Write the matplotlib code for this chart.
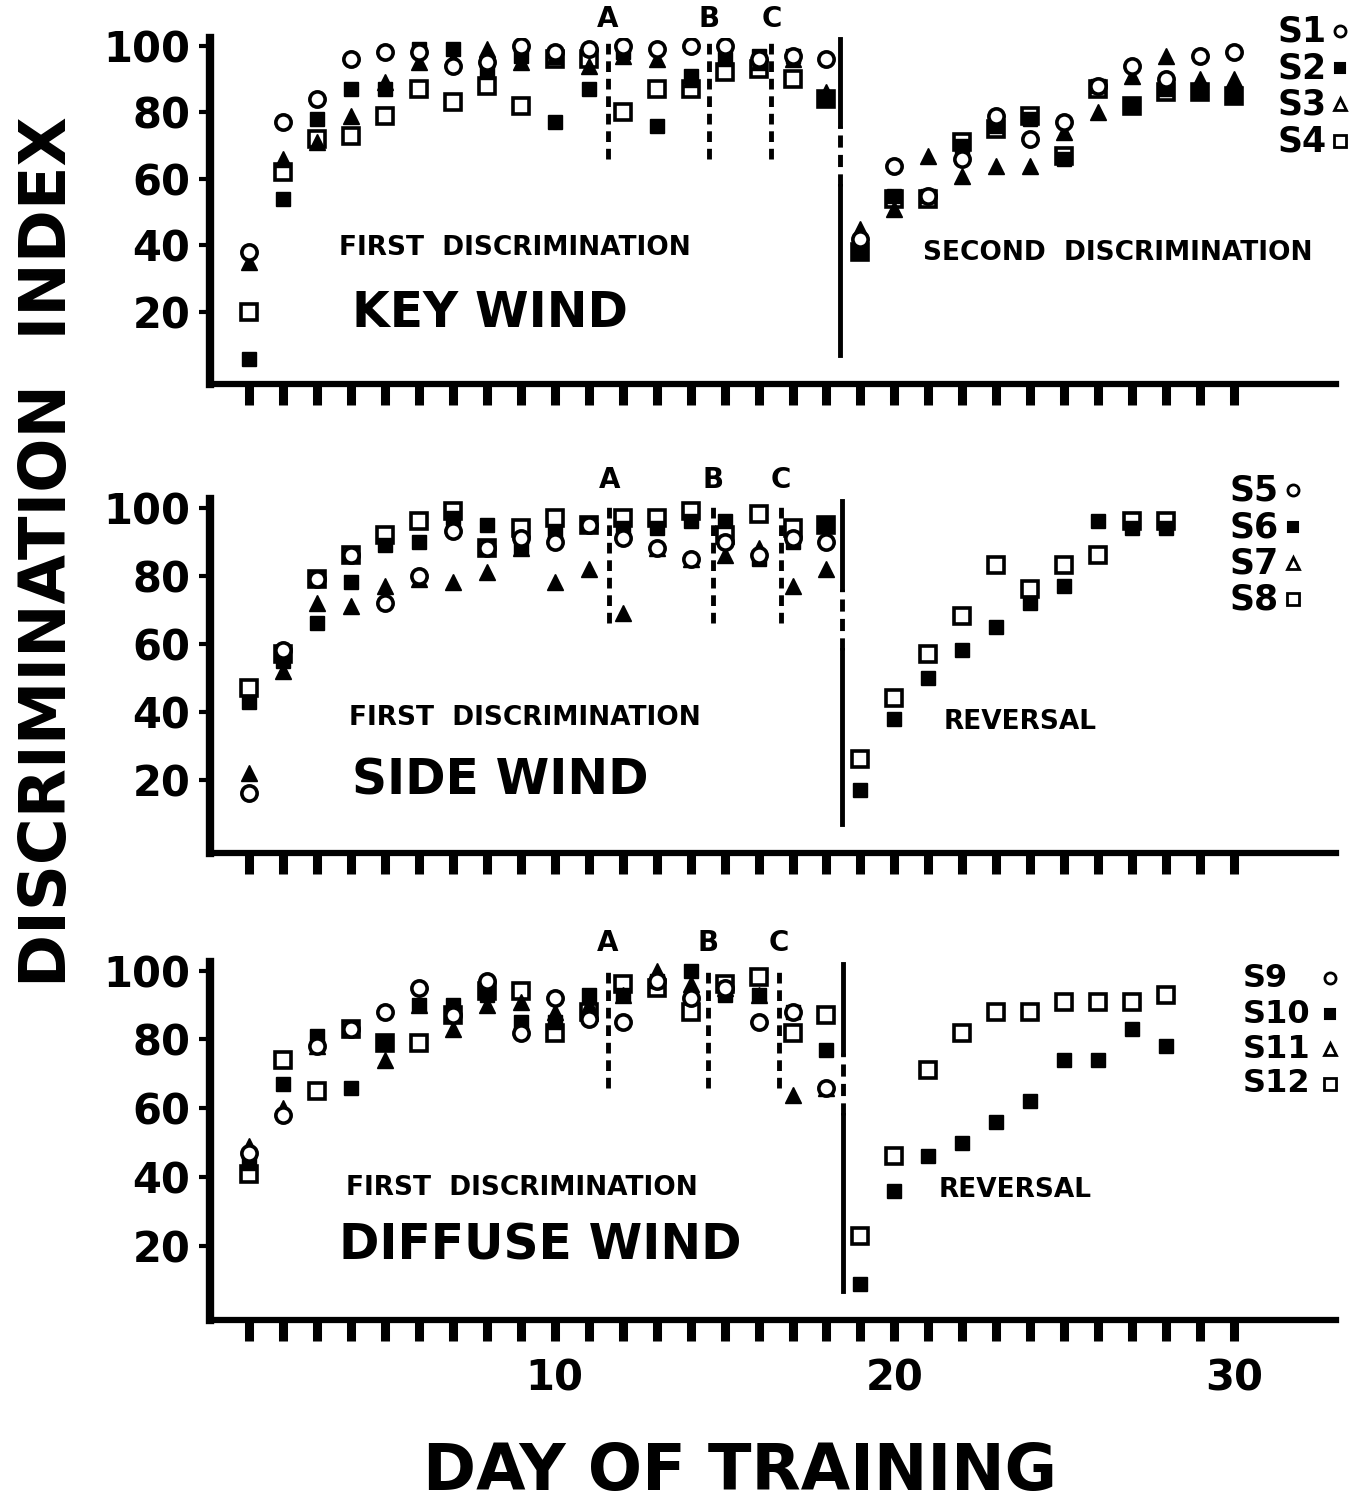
import numpy as np
import matplotlib
matplotlib.use("Agg")
import matplotlib.pyplot as plt

nan = np.nan

# ---------------- data ----------------
days_first = list(range(1, 19))
days_second = list(range(19, 31))
days_rev = list(range(19, 29))
x_ticks_days = list(range(1, 31))
y_ticks = [20, 40, 60, 80, 100]
x_labels = [10, 20, 30]

# KEY WIND (S1-S4)
kw_s1_first = [38, 77, 84, 96, 98, 98, 94, 95, 100, 98, 99, 100, 99, 100, 100, 96, 97, 96]
kw_s2_first = [6, 54, 78, 87, 87, 99, 99, 92, 97, 77, 87, 98, 76, 91, 96, 97, 97, 84]
kw_s3_first = [35, 66, 71, 79, 89, 95, 96, 99, 95, 97, 94, 97, 96, 90, 97, 95, 96, 86]
kw_s4_first = [20, 62, 72, 73, 79, 87, 83, 88, 82, 96, 96, 80, 87, 87, 92, 93, 90, 84]
kw_s1_second = [42, 64, 55, 66, 79, 72, 77, 88, 94, 90, 97, 98]
kw_s2_second = [38, 55, 55, 70, 76, 78, 66, 88, 82, 87, 86, 85]
kw_s3_second = [45, 51, 67, 61, 64, 64, 74, 80, 91, 97, 90, 90]
kw_s4_second = [38, 54, 54, 71, 75, 79, 67, 87, 82, 86, 86, 85]

# SIDE WIND (S5-S8)
sw_s5_first = [16, 58, 79, 86, 72, 80, 93, 88, 91, 90, 95, 91, 88, 85, 90, 86, 91, 90]
sw_s6_first = [43, 55, 66, 78, 89, 90, 97, 95, 88, 93, 95, 94, 94, 96, 96, 85, 90, 95]
sw_s7_first = [22, 52, 72, 71, 77, 79, 78, 81, 88, 78, 82, 69, 88, 85, 86, 88, 77, 82]
sw_s8_first = [47, 57, 79, 86, 92, 96, 99, 88, 94, 97, 95, 97, 97, 99, 92, 98, 94, 95]
sw_s6_rev = [17, 38, 50, 58, 65, 72, 77, 96, 94, 94]
sw_s8_rev = [26, 44, 57, 68, 83, 76, 83, 86, 96, 96]

# DIFFUSE WIND (S9-S12)
dw_s9_first = [47, 58, 78, 83, 88, 95, 87, 97, 82, 92, 86, 85, 97, 92, 95, 85, 88, 66]
dw_s10_first = [44, 67, 81, 66, 79, 90, 90, 93, 85, 85, 93, 93, 97, 100, 93, 93, 88, 77]
dw_s11_first = [49, 60, 78, 83, 74, 90, 83, 90, 91, 88, 90, 93, 100, 96, 95, 93, 64, 66]
dw_s12_first = [41, 74, 65, 83, 79, 79, 87, 94, 94, 82, 88, 96, 95, 88, 96, 98, 82, 87]
dw_s10_rev = [9, 36, 46, 50, 56, 62, 74, 74, 83, 78]
dw_s12_rev = [23, 46, 71, 82, 88, 88, 91, 91, 91, 93]

# criterion lines A, B, C and phase separator (day positions)
abc_labels = ["A", "B", "C"]
kw_abc = [11.56, 14.53, 16.38]
sw_abc = [11.6, 14.65, 16.65]
dw_abc = [11.56, 14.5, 16.6]
kw_sep, sw_sep, dw_sep = 18.41, 18.47, 18.5

# ---------------- figure ----------------
W, H = 1356, 1506
fig = plt.figure(figsize=(W / 100, H / 100), dpi=100)
fig.patch.set_facecolor("white")

XLIM = (-0.15, 33.0)
YLIM = (-1.5, 102.5)


def px_axes(left, top, right, bottom):
    ax = fig.add_axes([left / W, 1 - bottom / H, (right - left) / W, (bottom - top) / H])
    ax.patch.set_alpha(0)
    return ax


STY = {
    "circle": dict(marker="o", mfc="white", mec="black", mew=2.6, ms=11, ls="none"),
    "fsq": dict(marker="s", mfc="black", mec="black", mew=1.0, ms=10, ls="none"),
    "tri": dict(marker="^", mfc="black", mec="black", mew=1.0, ms=11, ls="none"),
    "osq": dict(marker="s", mfc="white", mec="black", mew=2.6, ms=11, ls="none"),
}


def setup(ax, show_xlabels):
    ax.set_xlim(*XLIM)
    ax.set_ylim(*YLIM)
    for s in ["top", "right"]:
        ax.spines[s].set_visible(False)
    ax.spines["left"].set_linewidth(6)
    ax.spines["bottom"].set_linewidth(4.5)
    ax.set_xticks(x_ticks_days)
    ax.tick_params(axis="x", direction="out", length=15, width=6.5, pad=12)
    ax.set_yticks(y_ticks)
    ax.set_yticklabels([str(v) for v in y_ticks], fontsize=30, fontweight="bold")
    ax.tick_params(axis="y", direction="out", length=8, width=3, pad=6)
    if show_xlabels:
        ax.set_xticklabels([str(d) if d in x_labels else "" for d in x_ticks_days],
                           fontsize=30, fontweight="bold")
    else:
        ax.set_xticklabels([])


def criterion_lines(ax, xs, sep):
    for lab, xv in zip(abc_labels, xs):
        ax.plot([xv, xv], [66, 101], color="black", lw=3.5, ls=(0, (2.2, 1.4)), clip_on=False)
        ax.text(xv, 104, lab, ha="center", va="bottom", fontsize=20, fontweight="bold",
                clip_on=False)
    ax.plot([sep, sep], [76, 102], color="black", lw=3.5, clip_on=False)
    ax.plot([sep, sep], [58, 76], color="black", lw=3.5, ls=(0, (2.5, 1.5)))
    ax.plot([sep, sep], [7, 58], color="black", lw=3.5)


# top panel: KEY WIND
ax1 = px_axes(210, 37.5, 1336, 383.5)
setup(ax1, False)
ax1.plot(days_first, kw_s4_first, **STY["osq"])
ax1.plot(days_first, kw_s2_first, **STY["fsq"])
ax1.plot(days_first, kw_s3_first, **STY["tri"])
ax1.plot(days_first, kw_s1_first, **STY["circle"])
ax1.plot(days_second, kw_s4_second, **STY["osq"])
ax1.plot(days_second, kw_s2_second, **STY["fsq"])
ax1.plot(days_second, kw_s3_second, **STY["tri"])
ax1.plot(days_second, kw_s1_second, **STY["circle"])
criterion_lines(ax1, kw_abc, kw_sep)

# middle panel: SIDE WIND
ax2 = px_axes(210, 499, 1336, 853)
setup(ax2, False)
ax2.plot(days_first, sw_s8_first, **STY["osq"])
ax2.plot(days_first, sw_s6_first, **STY["fsq"])
ax2.plot(days_first, sw_s7_first, **STY["tri"])
ax2.plot(days_first, sw_s5_first, **STY["circle"])
ax2.plot(days_rev, sw_s8_rev, **STY["osq"])
ax2.plot(days_rev, sw_s6_rev, **STY["fsq"])
criterion_lines(ax2, sw_abc, sw_sep)

# bottom panel: DIFFUSE WIND
ax3 = px_axes(210, 962, 1336, 1320)
setup(ax3, True)
ax3.plot(days_first, dw_s12_first, **STY["osq"])
ax3.plot(days_first, dw_s10_first, **STY["fsq"])
ax3.plot(days_first, dw_s11_first, **STY["tri"])
ax3.plot(days_first, dw_s9_first, **STY["circle"])
ax3.plot(days_rev, dw_s12_rev, **STY["osq"])
ax3.plot(days_rev, dw_s10_rev, **STY["fsq"])
criterion_lines(ax3, dw_abc, dw_sep)

# ---------------- overlay text in pixel space ----------------
ov = fig.add_axes([0, 0, 1, 1], zorder=5)
ov.set_xlim(0, W)
ov.set_ylim(H, 0)
ov.axis("off")

ov.text(48, 552, "DISCRIMINATION  INDEX", rotation=90, ha="center", va="center",
        fontsize=46, fontweight="bold")
ov.text(740, 1472, "DAY OF TRAINING", ha="center", va="center", fontsize=46, fontweight="bold")

sub = dict(ha="center", va="center", fontsize=19, fontweight="semibold")
big = dict(ha="center", va="center", fontsize=35, fontweight="bold")
ov.text(515, 248, "FIRST  DISCRIMINATION", **sub)
ov.text(490, 313, "KEY WIND", **big)
ov.text(1118, 253, "SECOND  DISCRIMINATION", **sub)
ov.text(525, 718, "FIRST  DISCRIMINATION", **sub)
ov.text(500, 780, "SIDE WIND", **big)
ov.text(1020, 722, "REVERSAL", **sub)
ov.text(522, 1188, "FIRST  DISCRIMINATION", **sub)
ov.text(540, 1245, "DIFFUSE WIND", **big)
ov.text(1015, 1190, "REVERSAL", **sub)

legend_groups = [
    (["S1", "S2", "S3", "S4"], 1278, 1340, [31, 68, 104, 141], 25),
    (["S5", "S6", "S7", "S8"], 1230, 1293, [490, 527, 563, 599], 25),
    (["S9", "S10", "S11", "S12"], 1243, 1330, [978, 1014, 1049, 1084], 23),
]
leg_markers = [
    dict(marker="o", mfc="white", mec="black", mew=2.0, ms=8),
    dict(marker="s", mfc="black", mec="black", mew=1.5, ms=7),
    dict(marker="^", mfc="white", mec="black", mew=2.0, ms=8),
    dict(marker="s", mfc="white", mec="black", mew=2.0, ms=8),
]
for names, xt, xm, ys, fsz in legend_groups:
    for nm, yy, mk in zip(names, ys, leg_markers):
        ov.text(xt, yy, nm, ha="left", va="center", fontsize=fsz, fontweight="bold")
        ov.plot([xm], [yy], ls="none", **mk)

fig.savefig("out.png", dpi=100, facecolor="white")
